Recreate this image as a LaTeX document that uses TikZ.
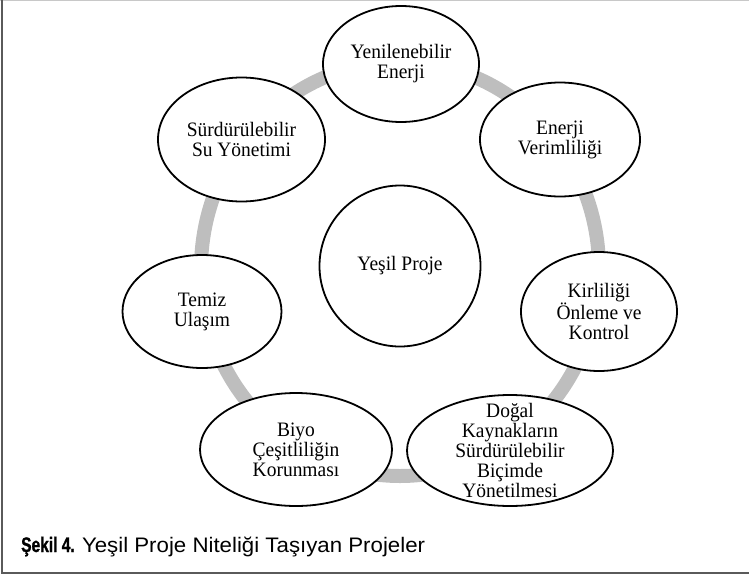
\documentclass[tikz,border=0pt]{standalone}
\usepackage{fontspec}
\setmainfont{Liberation Serif}
\newfontfamily\bubfont[FakeStretch=0.95]{Liberation Serif}
\newfontfamily\capfont[FakeStretch=1.06]{Liberation Sans}
\newfontfamily\capbold[FakeStretch=0.74,FakeBold=1.2]{Liberation Sans}
\usetikzlibrary{shapes.geometric}
\definecolor{ringgray}{RGB}{190,190,190}
\definecolor{framedark}{RGB}{90,90,90}
\definecolor{framelight}{RGB}{200,200,200}
\tikzset{
  bub/.style={ellipse, draw=black, line width=1.8pt, fill=white, inner sep=0pt},
  bubtxt/.style={font=\bubfont\fontsize{20.5}{20}\selectfont, align=center, inner sep=0pt},
  ring/.style={draw=ringgray, line width=14pt},
  capt/.style={font=\capfont\fontsize{21}{21}\selectfont, inner sep=0pt, anchor=base west}
}
\begin{document}
\begin{tikzpicture}[x=1pt,y=-1pt]
\useasboundingbox (0,0) rectangle (749,576);
% frame
\draw[framelight, line width=1pt] (0,0.5) -- (749,0.5);
\draw[framedark, line width=2pt] (2,0) -- (2,573) -- (749,573);
% ring
\coordinate (rc) at (400,269);
\draw[ring] (rc) ellipse [x radius=199pt, y radius=207pt];
% bubbles
\node[bub, minimum width=156pt, minimum height=116pt, label={[bubtxt]center:Yenilenebilir\\Enerji}] (yen) at (401,64) {};
\node[bub, minimum width=167pt, minimum height=124pt, label={[bubtxt]center:Sürdürülebilir\\Su Yönetimi}] (sur) at (241.5,139.5) {};
\node[bub, minimum width=160pt, minimum height=114pt, label={[bubtxt]center:Enerji\\Verimliliği}] (env) at (560,139.5) {};
\node[bub, minimum width=161pt, minimum height=161pt, label={[bubtxt]center:Yeşil Proje}] (yes) at (400,266) {};
\node[bub, minimum width=159pt, minimum height=113pt, label={[bubtxt]center:Temiz\\Ulaşım}] (tem) at (202,311.5) {};
\node[bub, minimum width=156pt, minimum height=119pt, label={[bubtxt]center:Kirliliği\\Önleme ve\\Kontrol}] (kir) at (599,311.5) {};
\node[bub, minimum width=192pt, minimum height=113pt, label={[bubtxt]center:Biyo\\Çeşitliliğin\\Korunması}] (biy) at (296,449.5) {};
\node[bub, minimum width=206pt, minimum height=111pt, label={[bubtxt]center:Doğal\\Kaynakların\\Sürdürülebilir\\Biçimde\\Yönetilmesi}] (dog) at (510,450.5) {};
% caption
\node[capt] (cap) at (21,552) {{\capbold\bfseries Şekil 4.}\hspace{-1pt} Yeşil Proje Niteliği Taşıyan Projeler};
\end{tikzpicture}
\end{document}
